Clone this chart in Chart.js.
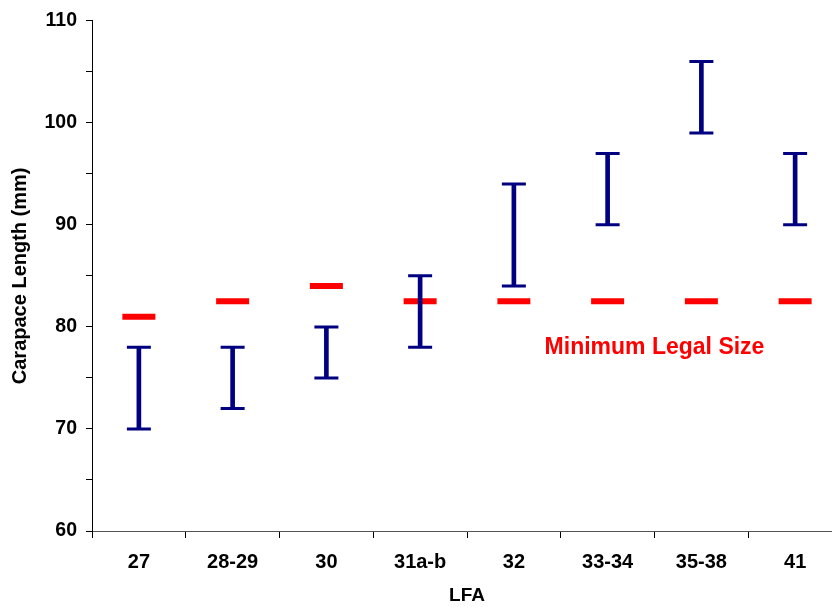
<!DOCTYPE html>
<html>
<head>
<meta charset="utf-8">
<script src="https://cdn.jsdelivr.net/npm/chart.js@4/dist/chart.umd.min.js"></script>
<style>
    body { margin: 0; overflow: hidden; background: #fff; }
</style>
</head>
<body>
<canvas id="lfaChart" width="850" height="607"></canvas>
<script>
// LFA categories and carapace length ranges (mm)
const areas = ['27', '28-29', '30', '31a-b', '32', '33-34', '35-38', '41'];
const lowValues = [70, 72, 75, 78, 84, 90, 99, 90];
const highValues = [78, 78, 80, 85, 94, 97, 106, 97];
const minLegalSize = [81, 82.5, 84, 82.5, 82.5, 82.5, 82.5, 82.5];
const yTicks = [60, 70, 80, 90, 100, 110];

const navy = '#000080';
const red = '#ff0000';
const fontFamily = "'Liberation Sans', Arial, sans-serif";

// draws the rotated y title and the red label
const textPlugin = {
    id: 'textPlugin',
    afterDraw(chart) {
        const c = chart.ctx;
        const x = chart.scales.x, y = chart.scales.y;
        c.save();
        c.font = 'bold 23px ' + fontFamily;
        c.fillStyle = red;
        c.textAlign = 'center';
        c.textBaseline = 'middle';
        c.fillText('Minimum Legal Size', x.getPixelForValue(5.5), y.getPixelForValue(78));

        c.font = 'bold 20px ' + fontFamily;
        c.fillStyle = '#000';
        c.translate(20, (chart.chartArea.top + chart.chartArea.bottom) / 2);
        c.rotate(-Math.PI / 2);
        c.fillText('Carapace Length (mm)', 0, 0);
        c.restore();
    }
};

const ctx = document.getElementById('lfaChart');
new Chart(ctx, {
    type: 'bar',
    data: {
        labels: areas,
        datasets: [
            {
                label: 'Range',
                data: lowValues.map((v, i) => [v, highValues[i]]),
                backgroundColor: navy,
                barThickness: 4,
                borderWidth: 0,
                order: 2
            },
            {
                type: 'line',
                label: 'Low',
                data: lowValues,
                showLine: false,
                pointStyle: 'line',
                pointRadius: 12,
                pointBorderWidth: 3,
                borderColor: navy,
                order: 1
            },
            {
                type: 'line',
                label: 'High',
                data: highValues,
                showLine: false,
                pointStyle: 'line',
                pointRadius: 12,
                pointBorderWidth: 3,
                borderColor: navy,
                order: 1
            },
            {
                type: 'line',
                label: 'Minimum Legal Size',
                data: minLegalSize,
                showLine: false,
                pointStyle: 'line',
                pointRadius: 16.5,
                pointBorderWidth: 6,
                borderColor: red,
                order: 3
            }
        ]
    },
    options: {
        responsive: false,
        animation: false,
        layout: { autoPadding: false, padding: { top: 16, right: 8, left: 0, bottom: 0 } },
        plugins: {
            legend: { display: false },
            tooltip: { enabled: false }
        },
        scales: {
            x: {
                offset: true,
                grid: { offset: true, drawOnChartArea: false, drawTicks: true, tickLength: 7, color: '#000' },
                border: { color: '#555', width: 1 },
                ticks: { color: '#000', font: { family: fontFamily, size: 20, weight: 'bold' }, padding: 12, maxRotation: 0 },
                title: { display: true, text: 'LFA', color: '#000', font: { family: fontFamily, size: 19, weight: 'bold' }, padding: { top: 0, bottom: 0 } },
                afterFit(scale) { scale.height = 76; }
            },
            y: {
                min: 60,
                max: 110,
                grid: { drawOnChartArea: false, drawTicks: true, tickLength: 6, color: '#000' },
                border: { color: '#000', width: 1 },
                ticks: {
                    stepSize: 5,
                    color: '#000',
                    padding: 9,
                    font: { family: fontFamily, size: 19.5, weight: 'bold' },
                    callback: v => yTicks.includes(v) ? v : ''
                },
                afterFit(scale) { scale.width = 92; }
            }
        }
    },
    plugins: [textPlugin]
});
</script>
</body>
</html>
